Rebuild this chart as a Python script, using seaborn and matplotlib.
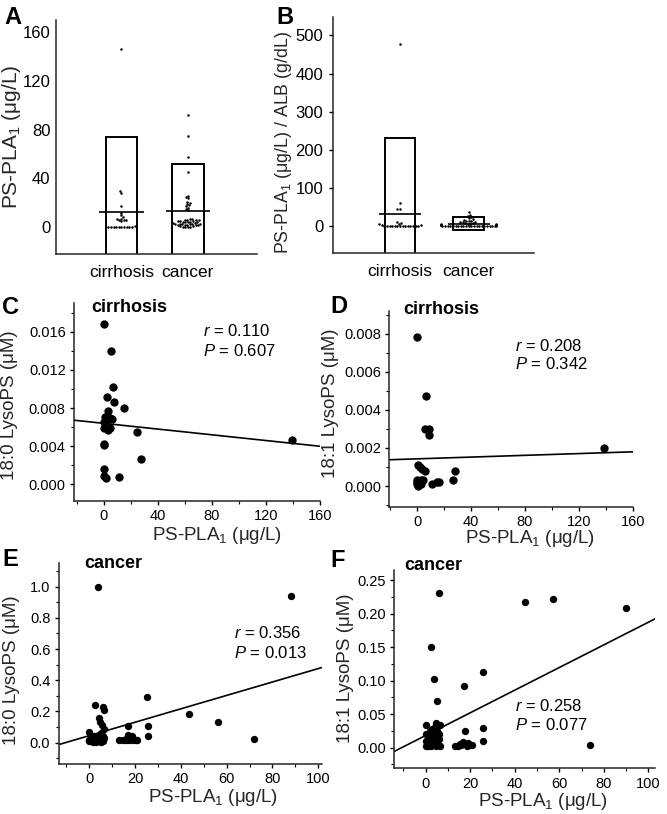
import matplotlib
matplotlib.use('Agg')
import matplotlib.pyplot as plt
from matplotlib.ticker import FormatStrFormatter, MultipleLocator
import seaborn as sns
import pandas as pd

W, H = 667, 814

groups = ['cirrhosis', 'cancer']

# panel A: PS-PLA1 (ug/L) per patient
a_cirrhosis = [146, 29.5, 28, 17, 12, 10, 8, 7, 6.5, 6, 6, 5.5, 5,
               0.6, 0.5, 0.4, 0.4, 0.3, 0.3, 0.2, 0.2, 0.1, 0.1, 0]
a_cancer = [92, 75, 58, 45, 26, 25, 24, 21, 20, 19, 18, 17, 16, 15, 14,
            7, 6.5, 6, 6, 5.5, 5.5, 5, 5, 5, 4.5, 4.5, 4, 4, 4, 3.5, 3.5,
            3, 3, 3, 2.5, 2.5, 2.5, 2, 2, 2, 1.5, 1.5, 1, 1, 0.5, 0.5, 0, 0]
a_box_low = [-50, -26]
a_box_high = [74, 51.6]
a_mid = [12.3, 13]

# panel B: PS-PLA1 / ALB
b_cirrhosis = [476, 60, 45, 44, 10, 8, 6, 5, 4, 3, 2, 1.5, 1, 1, 0.8,
               0.6, 0.5, 0.4, 0.3, 0.2, 0.2, 0.1, 0.1, 0]
b_cancer = [37, 30, 27, 24, 21, 19, 17, 15, 14, 13, 12, 11, 10, 9, 8, 7,
            6, 5.5, 5, 4.5, 4, 3.5, 3, 3, 2.5, 2.5, 2, 2, 2, 1.5, 1.5, 1.5,
            1, 1, 1, 1, 0.8, 0.8, 0.6, 0.6, 0.5, 0.4, 0.3, 0.3, 0.2, 0.2, 0.1, 0]
b_box_low = [-170, -10.5]
b_box_high = [230, 23]
b_mid = [32, 6]

# panel C: cirrhosis, 18:0 LysoPS vs PS-PLA1
c_x = [0, 5.3, 6.8, 2.5, 7.9, 15.3, 3.3, 1.3, 5, 6, 0, 2, 0, 4.4, 3.5,
       24.7, 0, 0.5, 27.7, 0, 0, 1.5, 11.6, 139]
c_y = [0.0168, 0.0140, 0.0102, 0.0092, 0.0086, 0.0080, 0.0077, 0.0071,
       0.0070, 0.0069, 0.0065, 0.0066, 0.0059, 0.0059, 0.0057, 0.0055,
       0.0041, 0.0042, 0.0027, 0.0016, 0.0009, 0.0007, 0.0008, 0.0047]
c_fit = (0.0064, -0.000015)

# panel D: cirrhosis, 18:1 LysoPS vs PS-PLA1
d_x = [0, 6.4, 5.7, 8.4, 8.9, 139, 0.7, 2, 3.7, 5.7, 28, 0, 2.5, 0, 0.7,
       10.7, 14.4, 16.3, 26.3, 1.5, 4, 0, 3]
d_y = [0.0078, 0.0047, 0.0030, 0.0030, 0.0027, 0.0020, 0.0011, 0.0010,
       0.0009, 0.0008, 0.0008, 0.0003, 0.0003, 0.0001, 0.0000, 0.0001,
       0.0002, 0.0002, 0.0003, 0.0002, 0.0003, 0.0002, 0.0001]
d_fit = (0.00143, 0.0000023)

# panel E: cancer, 18:0 LysoPS vs PS-PLA1
e_x = [3.6, 88, 2.5, 6.1, 6.4, 4.4, 4.7, 5.4, 6.4, 0, 25, 43.4, 56, 72, 17,
       25.5, 25.5, 17,
       0, 0, 0.5, 1, 1.5, 2, 2.5, 3, 3, 3.5, 4, 4, 4.5, 5, 5.5, 6, 6, 6.5,
       1, 2, 5,
       13, 14.5, 16, 17.5, 18.5, 19, 20.5, 16.5, 21]
e_y = [1.0, 0.94, 0.24, 0.227, 0.21, 0.16, 0.135, 0.11, 0.09, 0.07, 0.295,
       0.184, 0.13, 0.024, 0.109, 0.109, 0.045, 0.05,
       0.02, 0.01, 0.03, 0.015, 0.005, 0.02, 0.01, 0.03, 0.005, 0.015, 0.04,
       0.01, 0.025, 0.005, 0.02, 0.04, 0.01, 0.03, 0.04, 0.045, 0.06,
       0.015, 0.015, 0.015, 0.02, 0.04, 0.015, 0.015, 0.03, 0.015]
e_fit = (0.045, 0.0043)

# panel F: cancer, 18:1 LysoPS vs PS-PLA1
f_x = [6.1, 44.5, 57.3, 89.8, 2.2, 3.7, 17.2, 25.7, 4.9, 0, 4.6, 6.4, 25.7,
       17.8, 73.8, 25.7,
       0, 0, 0, 1, 1.5, 2, 2, 2.5, 3, 3, 3.5, 4, 4, 4.5, 5, 5, 5.5, 6, 6,
       6.5, 1, 3,
       13, 14.5, 16, 17, 18, 19, 20, 21, 15.5, 18.5]
f_y = [0.230, 0.217, 0.222, 0.209, 0.150, 0.102, 0.092, 0.113, 0.069, 0.034,
       0.036, 0.034, 0.029, 0.024, 0.004, 0.010,
       0.02, 0.01, 0.003, 0.015, 0.005, 0.025, 0.01, 0.002, 0.02, 0.012,
       0.005, 0.03, 0.015, 0.002, 0.025, 0.01, 0.005, 0.02, 0.013, 0.003,
       0.003, 0.028,
       0.003, 0.003, 0.004, 0.008, 0.005, 0.007, 0.004, 0.004, 0.005, 0.003]
f_fit = (0.018, 0.00169)

sns.set_theme(style='ticks')
plt.rcParams['font.family'] = ['Liberation Sans', 'DejaVu Sans']
plt.rcParams['mathtext.fontset'] = 'custom'
plt.rcParams['mathtext.rm'] = 'Liberation Sans'
plt.rcParams['mathtext.it'] = 'Liberation Sans:italic'
plt.rcParams['mathtext.bf'] = 'Liberation Sans:bold'
plt.rcParams['mathtext.default'] = 'rm'
plt.rcParams['axes.linewidth'] = 1.1

fig = plt.figure(figsize=(W / 100, H / 100), dpi=100)


def rect(l, t, r, b):
    return [l / W, 1 - b / H, (r - l) / W, (b - t) / H]


def ftext(x, y, s, **kw):
    fig.text(x / W, 1 - y / H, s, color='black', **kw)


PLA = 'PS-PLA$_1$ (\u03bcg/L)'


def dot_panel(pos, vals_a, vals_b, low, high, mid, box_w, mid_w, xlim, ylim,
              yticks, ylabel, ylab_fs, ylab_xy, ytick_len):
    ax = fig.add_axes(rect(*pos))
    df = pd.DataFrame({'group': ['cirrhosis'] * len(vals_a) + ['cancer'] * len(vals_b),
                       'value': vals_a + vals_b})
    sns.swarmplot(data=df, x='group', y='value', order=groups, color='black',
                  size=1.8, ax=ax, zorder=3, warn_thresh=1)
    ax.bar([0, 1], [h - l for h, l in zip(high, low)], bottom=low, width=box_w,
           fill=False, edgecolor='black', linewidth=1.4, zorder=2)
    ax.hlines(mid, [i - mid_w / 2 for i in range(2)], [i + mid_w / 2 for i in range(2)],
              color='black', linewidth=1.2, zorder=2)
    ax.set_xlim(*xlim)
    ax.set_ylim(*ylim)
    ax.set_yticks(yticks)
    ax.set_xlabel('')
    ax.set_ylabel(ylabel, fontsize=ylab_fs)
    ax.yaxis.set_label_coords(*ylab_xy)
    ax.tick_params(axis='x', length=0, pad=8, labelsize=12.5, colors='black')
    ax.tick_params(axis='y', length=ytick_len, width=1, pad=4, labelsize=12, colors='black')
    sns.despine(ax=ax)
    return ax


def scatter_panel(pos, xs, ys, fit, xlim, ylim, xticks, xminor, yticks, yminor,
                  yfmt, ylabel, ylab_xy, xlab_xy, dot_s):
    ax = fig.add_axes(rect(*pos))
    sns.scatterplot(x=xs, y=ys, color='black', s=dot_s, linewidth=0, ax=ax, zorder=3)
    ax.axline((0, fit[0]), slope=fit[1], color='black', linewidth=1.2)
    ax.set_xlim(*xlim)
    ax.set_ylim(*ylim)
    ax.set_xticks(xticks)
    ax.set_yticks(yticks)
    ax.xaxis.set_minor_locator(MultipleLocator(xminor))
    ax.yaxis.set_minor_locator(MultipleLocator(yminor))
    ax.yaxis.set_major_formatter(FormatStrFormatter(yfmt))
    ax.set_xlabel(PLA, fontsize=13.5)
    ax.set_ylabel(ylabel, fontsize=13.5)
    ax.xaxis.set_label_coords(*xlab_xy)
    ax.yaxis.set_label_coords(*ylab_xy)
    ax.xaxis.label.set_va('top')
    ax.tick_params(which='major', length=3, width=1, pad=3, labelsize=10.5, colors='black')
    ax.tick_params(which='minor', length=2, width=0.8, colors='black')
    sns.despine(ax=ax)
    return ax


dot_panel((56, 20, 257, 254), a_cirrhosis, a_cancer, a_box_low, a_box_high, a_mid,
          0.47, 0.67, (-0.985, 2.04), (-22, 170), [0, 40, 80, 120, 160],
          PLA, 15, (-0.164, 0.5), 0)
dot_panel((333, 17, 534, 253), b_cirrhosis, b_cancer, b_box_low, b_box_high, b_mid,
          0.445, 0.61, (-0.975, 1.95), (-70, 548), [0, 100, 200, 300, 400, 500],
          PLA + ' / ALB (g/dL)', 12.8, (-0.192, 0.47), 3)

scatter_panel((74, 303, 320, 500.7), c_x, c_y, c_fit, (-22, 160), (-0.0017, 0.019),
              [0, 40, 80, 120, 160], 20, [0, 0.004, 0.008, 0.012, 0.016], 0.002,
              '%.3f', '18:0 LysoPS (\u03bcM)', (-0.228, 0.484), (0.58, -0.125), 36)
scatter_panel((389.3, 310.7, 633.3, 506.7), d_x, d_y, d_fit, (-20.8, 160.5), (-0.00108, 0.0092),
              [0, 40, 80, 120, 160], 20, [0, 0.002, 0.004, 0.006, 0.008], 0.001,
              '%.3f', '18:1 LysoPS (\u03bcM)', (-0.206, 0.53), (0.577, -0.11), 36)
scatter_panel((58.7, 563.3, 321.7, 763.7), e_x, e_y, e_fit, (-13.4, 101.5), (-0.135, 1.15),
              [0, 20, 40, 60, 80, 100], 10, [0, 0.2, 0.4, 0.6, 0.8, 1.0], 0.1,
              '%.1f', '18:0 LysoPS (\u03bcM)', (-0.147, 0.468), (0.588, -0.118), 28)
scatter_panel((394, 570, 655, 768.3), f_x, f_y, f_fit, (-14.2, 103), (-0.031, 0.265),
              [0, 20, 40, 60, 80, 100], 10, [0, 0.05, 0.10, 0.15, 0.20, 0.25], 0.025,
              '%.2f', '18:1 LysoPS (\u03bcM)', (-0.153, 0.503), (0.572, -0.112), 28)

# panel letters
for letter, x, y in [('A', 4, 6), ('B', 276, 6), ('C', 2, 296), ('D', 330, 295),
                     ('E', 2, 548), ('F', 330, 549)]:
    ftext(x, y, letter, fontsize=17, fontweight='bold', va='top', ha='left')

# group titles
for title, x, y in [('cirrhosis', 129, 308), ('cirrhosis', 441, 310),
                    ('cancer', 113, 564), ('cancer', 433, 566)]:
    ftext(x, y, title, fontsize=13, fontweight='bold', va='center', ha='center')

# correlation stats
for r, p, x, y1, y2 in [('0.110', '0.607', 203, 331, 351), ('0.208', '0.342', 515, 346, 364),
                        ('0.356', '0.013', 234, 633, 653), ('0.258', '0.077', 515, 706, 725)]:
    ftext(x, y1, '$\\it{r}$ = ' + r, fontsize=12, va='center', ha='left')
    ftext(x, y2, '$\\it{P}$ = ' + p, fontsize=12, va='center', ha='left')

fig.savefig('out.png', dpi=100)
